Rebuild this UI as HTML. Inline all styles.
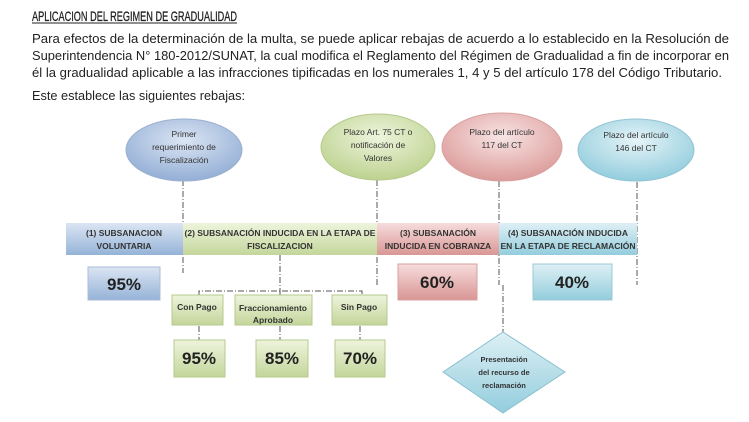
<!DOCTYPE html>
<html><head><meta charset="utf-8"><style>
body{margin:0;background:#fff;}
svg{display:block;font-family:"Liberation Sans",sans-serif;}
</style></head><body>
<svg width="749" height="422" viewBox="0 0 749 422" xmlns="http://www.w3.org/2000/svg">
<defs>
<linearGradient id="gb" x1="0" y1="0" x2="0" y2="1"><stop offset="0" stop-color="#dbe5f3"/><stop offset="1" stop-color="#95b3d7"/></linearGradient>
<linearGradient id="gg" x1="0" y1="0" x2="0" y2="1"><stop offset="0" stop-color="#eef4dc"/><stop offset="1" stop-color="#c3d69b"/></linearGradient>
<linearGradient id="gr" x1="0" y1="0" x2="0" y2="1"><stop offset="0" stop-color="#f6dcdc"/><stop offset="1" stop-color="#d99694"/></linearGradient>
<linearGradient id="gc" x1="0" y1="0" x2="0" y2="1"><stop offset="0" stop-color="#def0f5"/><stop offset="1" stop-color="#93cddd"/></linearGradient>
<radialGradient id="eb" cx="0.5" cy="0.35" r="0.7"><stop offset="0" stop-color="#dbe5f3"/><stop offset="1" stop-color="#8eaad3"/></radialGradient>
<radialGradient id="eg" cx="0.5" cy="0.35" r="0.7"><stop offset="0" stop-color="#eef4dc"/><stop offset="1" stop-color="#b9d08a"/></radialGradient>
<radialGradient id="er" cx="0.5" cy="0.35" r="0.7"><stop offset="0" stop-color="#f8e4e4"/><stop offset="1" stop-color="#d99694"/></radialGradient>
<radialGradient id="ec" cx="0.5" cy="0.35" r="0.7"><stop offset="0" stop-color="#e6f4f8"/><stop offset="1" stop-color="#8ccadb"/></radialGradient>
</defs>
<g fill="#222" font-size="13">
<text x="32" y="21" font-size="14" stroke="#222" stroke-width="0.3" textLength="205" lengthAdjust="spacingAndGlyphs">APLICACION DEL REGIMEN DE GRADUALIDAD</text>
<line x1="32" y1="23" x2="237" y2="23" stroke="#222" stroke-width="1"/>
<text x="32" y="43" textLength="697" lengthAdjust="spacingAndGlyphs">Para efectos de la determinación de la multa, se puede aplicar rebajas de acuerdo a lo establecido en la Resolución de</text>
<text x="32" y="60" textLength="697" lengthAdjust="spacingAndGlyphs">Superintendencia N° 180-2012/SUNAT, la cual modifica el Reglamento del Régimen de Gradualidad a fin de incorporar en</text>
<text x="32" y="77" textLength="690" lengthAdjust="spacingAndGlyphs">él la gradualidad aplicable a las infracciones tipificadas en los numerales 1, 4 y 5 del artículo 178 del Código Tributario.</text>
<text x="32" y="100" textLength="213" lengthAdjust="spacingAndGlyphs">Este establece las siguientes rebajas:</text>
</g>
<g stroke="#555" stroke-width="1" stroke-dasharray="6,2,1,2" fill="none">
<line x1="183" y1="180" x2="183" y2="273"/>
<line x1="377" y1="180" x2="377" y2="285"/>
<line x1="499" y1="181" x2="499" y2="285"/>
<line x1="503" y1="285" x2="503" y2="333"/>
<line x1="637" y1="182" x2="637" y2="285"/>
<line x1="280" y1="255" x2="280" y2="292"/>
<polyline points="199,296 199,291 362,291 362,296"/>
<line x1="280" y1="291" x2="280" y2="296"/>
<line x1="199" y1="326" x2="199" y2="340"/>
<line x1="280" y1="326" x2="280" y2="340"/>
<line x1="360" y1="326" x2="360" y2="340"/>
</g>
<ellipse cx="184" cy="150" rx="58" ry="31" fill="url(#eb)" stroke="#9bb0d0"/>
<ellipse cx="378" cy="147" rx="57" ry="33" fill="url(#eg)" stroke="#b5c98c"/>
<ellipse cx="502" cy="147" rx="60" ry="34" fill="url(#er)" stroke="#d8a0a0"/>
<ellipse cx="636" cy="150" rx="58" ry="31" fill="url(#ec)" stroke="#92c4d4"/>
<g font-size="8.5" fill="#333" text-anchor="middle">
<text x="184" y="137">Primer</text><text x="184" y="150">requerimiento de</text><text x="184" y="163">Fiscalización</text>
<text x="378" y="135">Plazo Art. 75 CT o</text><text x="378" y="148">notificación de</text><text x="378" y="161">Valores</text>
<text x="502" y="135">Plazo del artículo</text><text x="502" y="148">117 del CT</text>
<text x="636" y="138">Plazo del artículo</text><text x="636" y="151">146 del CT</text>
</g>
<rect x="66" y="223" width="117" height="32" fill="url(#gb)"/>
<rect x="183" y="223" width="194" height="32" fill="url(#gg)"/>
<rect x="377" y="223" width="122" height="32" fill="url(#gr)"/>
<rect x="499" y="223" width="138" height="32" fill="url(#gc)"/>
<g font-size="8.5" font-weight="bold" fill="#333" text-anchor="middle">
<text x="124" y="236">(1) SUBSANACION</text><text x="124" y="249">VOLUNTARIA</text>
<text x="280" y="236">(2) SUBSANACIÓN INDUCIDA EN LA ETAPA DE</text><text x="280" y="249">FISCALIZACION</text>
<text x="438" y="236">(3) SUBSANACIÓN</text><text x="438" y="249">INDUCIDA EN COBRANZA</text>
<text x="568" y="236">(4) SUBSANACIÓN INDUCIDA</text><text x="568" y="249">EN LA ETAPA DE RECLAMACIÓN</text>
</g>
<rect x="88" y="267" width="72" height="33" fill="url(#gb)" stroke="#a8bcd8"/>
<rect x="398" y="264" width="79" height="36" fill="url(#gr)" stroke="#d8a0a0"/>
<rect x="533" y="264" width="79" height="36" fill="url(#gc)" stroke="#9cc8d6"/>
<g font-size="9" font-weight="bold" fill="#333" text-anchor="middle">
<rect x="172" y="295" width="51" height="30" fill="url(#gg)" stroke="#b5c98c"/>
<rect x="235" y="295" width="77" height="30" fill="url(#gg)" stroke="#b5c98c"/>
<rect x="332" y="295" width="55" height="30" fill="url(#gg)" stroke="#b5c98c"/>
<text x="197" y="310" font-size="8.5">Con Pago</text>
<text x="273" y="311" font-size="8.5">Fraccionamiento</text><text x="273" y="323" font-size="8.5">Aprobado</text>
<text x="359" y="310" font-size="8.5">Sin Pago</text>
</g>
<rect x="174" y="340" width="51" height="37" fill="url(#gg)" stroke="#b5c98c"/>
<rect x="256" y="340" width="52" height="37" fill="url(#gg)" stroke="#b5c98c"/>
<rect x="335" y="340" width="50" height="37" fill="url(#gg)" stroke="#b5c98c"/>
<g font-size="17" font-weight="bold" fill="#222" text-anchor="middle">
<text x="124" y="290">95%</text>
<text x="437" y="288">60%</text>
<text x="572" y="288">40%</text>
<text x="199" y="364">95%</text>
<text x="282" y="364">85%</text>
<text x="360" y="364">70%</text>
</g>
<polygon points="503,332 565,372 503,413 443,372" fill="url(#gc)" stroke="#8cc0d0"/>
<g font-size="7.5" font-weight="bold" fill="#333" text-anchor="middle">
<text x="504" y="362">Presentación</text><text x="504" y="375">del recurso de</text><text x="504" y="388">reclamación</text>
</g>
</svg>
</body></html>
